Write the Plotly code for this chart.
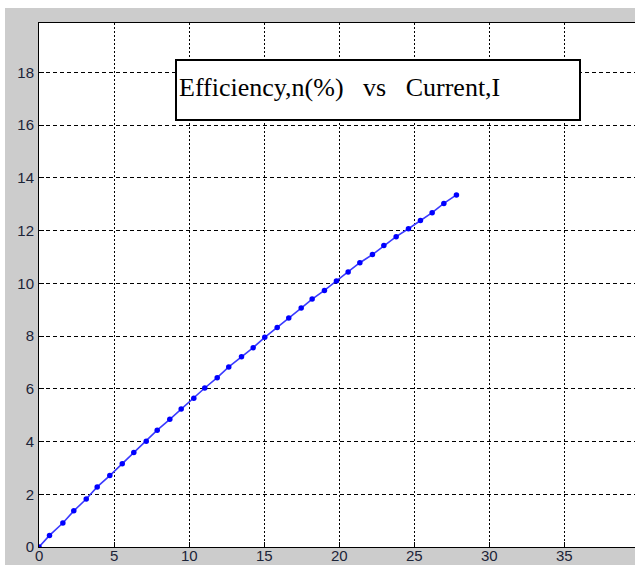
import plotly.graph_objects as go

current = [0, 0.7, 1.59, 2.32, 3.15, 3.88, 4.72, 5.55, 6.32, 7.15, 7.88, 8.72, 9.48,
           10.32, 11.05, 11.88, 12.65, 13.5, 14.28, 15.05, 15.88, 16.65, 17.48, 18.21,
           19.03, 19.83, 20.61, 21.39, 22.23, 22.99, 23.81, 24.63, 25.43, 26.21, 26.99, 27.83]
efficiency = [0, 0.44, 0.91, 1.37, 1.82, 2.28, 2.71, 3.16, 3.58, 4.01, 4.43, 4.84, 5.23,
              5.64, 6.03, 6.42, 6.83, 7.21, 7.56, 7.95, 8.32, 8.68, 9.06, 9.40,
              9.73, 10.09, 10.43, 10.78, 11.09, 11.43, 11.77, 12.07, 12.38, 12.68, 13.03, 13.35]
x_ticks = [0, 5, 10, 15, 20, 25, 30, 35]
y_ticks = [0, 2, 4, 6, 8, 10, 12, 14, 16, 18]
title_text = "Efficiency,n(%)\u00a0\u00a0\u00a0vs\u00a0\u00a0\u00a0Current,I"

# page offset of the figure (body margin set in post_script)
OX, OY = 5, 8
W, H = 635 - OX, 565 - OY
ML, MT, MB, MR = 34, 15, 18, 0
PW, PH = W - ML - MR, H - MT - MB

def px_x(p):  # page pixel -> paper x
    return (p - OX - ML) / PW

def px_y(p):  # page pixel -> paper y
    return (H - MB - (p - OY)) / PH

fig = go.Figure()
fig.add_trace(go.Scatter(
    x=current, y=efficiency, mode="lines+markers",
    line=dict(color="#3a3aff", width=1.6),
    marker=dict(symbol="circle", size=5.5, color="#0000ff"),
    showlegend=False, hoverinfo="skip",
))

label_color = "#1c2438"
label_font = dict(family="Liberation Sans, Arial", size=15, color=label_color)
grid_common = dict(showgrid=True, gridcolor="#000000", gridwidth=1,
                   showline=True, linecolor="#000000", linewidth=1,
                   ticks="inside", ticklen=5, tickcolor="#000000",
                   zeroline=False, automargin=False)

fig.update_xaxes(range=[0, PW / 15.0], tickvals=x_ticks, showticklabels=False,
                 griddash="2px,2px", mirror=True, **grid_common)
fig.update_yaxes(range=[0, PH / 26.37], tickvals=y_ticks, ticktext=[str(v) for v in y_ticks],
                 griddash="4px,3px", mirror=False, ticklabelstandoff=1,
                 tickfont=label_font, **grid_common)

shapes = [
    dict(type="rect", xref="paper", yref="paper", x0=px_x(176), x1=px_x(580),
         y0=px_y(120), y1=px_y(60), fillcolor="white",
         line=dict(color="#000000", width=2), layer="above"),
]

annotations = [dict(text=title_text, xref="paper", yref="paper",
                    x=px_x(177), y=px_y(88), xanchor="left", yanchor="middle",
                    showarrow=False,
                    font=dict(family="Liberation Serif, Times New Roman", size=26, color="#000000"))]
# x tick labels (kept inside the page bottom edge)
for v in x_ticks:
    annotations.append(dict(text=str(v), xref="x", yref="paper", x=v, y=px_y(565),
                            xanchor="center", yanchor="bottom", showarrow=False,
                            borderpad=0, font=label_font))

fig.update_layout(
    width=W, height=H,
    margin=dict(l=ML, r=MR, t=MT, b=MB, pad=0),
    paper_bgcolor="#cccccc", plot_bgcolor="white",
    shapes=shapes,
    annotations=annotations,
)

fig.write_html("out.html",
               post_script="document.body.style.margin='8px 0 0 5px';"
                           "document.body.style.overflow='hidden';")
